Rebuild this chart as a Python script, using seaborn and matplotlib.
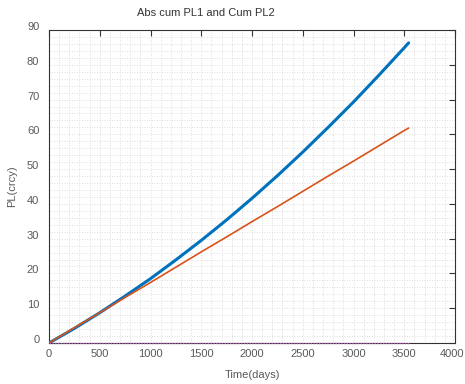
import matplotlib
matplotlib.use("Agg")
import matplotlib.pyplot as plt
from matplotlib.ticker import MultipleLocator
from matplotlib.transforms import ScaledTranslation
import numpy as np
import pandas as pd
import seaborn as sns

# Time axis (days) and cumulative PL values for the two series
time_days = [0, 250, 500, 750, 1000, 1250, 1500, 1750, 2000, 2250, 2500,
             2750, 3000, 3250, 3500, 3543]
abs_cum_pl1 = [0.0, 4.2, 8.7, 13.5, 18.5, 23.9, 29.5, 35.4, 41.6, 48.1, 54.9,
               62.0, 69.3, 77.0, 84.9, 86.3]
cum_pl2 = [0.0, 4.4, 8.7, 13.1, 17.4, 21.8, 26.2, 30.5, 34.9, 39.2, 43.6,
           48.0, 52.3, 56.7, 61.1, 61.8]
baseline = [0.0] * len(time_days)

title = "Abs cum PL1 and Cum PL2"
xlabel = "Time(days)"
ylabel = "PL(crcy)"
x_ticks = [0, 500, 1000, 1500, 2000, 2500, 3000, 3500, 4000]
y_ticks = [0, 10, 20, 30, 40, 50, 60, 70, 80, 90]

sns.set_theme(style="white")
plt.rcParams["font.family"] = ["Liberation Sans", "DejaVu Sans"]

df = pd.DataFrame({"t": time_days, "pl1": abs_cum_pl1, "pl2": cum_pl2,
                   "zero": baseline})

fig = plt.figure(figsize=(4.65, 3.84), dpi=100)
ax = fig.add_axes([49 / 465, 1 - 343 / 384, 406 / 465, 313 / 384])

sns.lineplot(data=df, x="t", y="pl1", ax=ax, color="#0072BD", lw=2.2, zorder=3)
sns.lineplot(data=df, x="t", y="pl2", ax=ax, color="#D95319", lw=1.2, zorder=3)
sns.lineplot(data=df, x="t", y="zero", ax=ax, color="#b35bb3", lw=1.0,
             ls=(0, (1, 1)), zorder=6)
ax.lines[-1].set_clip_on(False)

ax.set_xlim(0, 4000)
ax.set_ylim(0, 90)
ax.set_xticks(x_ticks, [str(v) for v in x_ticks])
ax.set_yticks(y_ticks, [str(v) for v in y_ticks])
ax.xaxis.set_minor_locator(MultipleLocator(100))
ax.yaxis.set_minor_locator(MultipleLocator(2))

ax.grid(which="both", ls=(0, (1, 2)), color="#d4d4d4", lw=0.6)
ax.set_axisbelow(True)

ax.tick_params(which="major", direction="in", length=4, width=0.8,
               top=True, right=True, colors="#333333", labelcolor="#5a5a5a",
               labelsize=8)
ax.tick_params(axis="x", which="major", pad=4)
ax.tick_params(axis="y", which="major", pad=7)
ax.tick_params(which="minor", direction="in", length=0)
for s in ax.spines.values():
    s.set_color("#333333")
    s.set_linewidth(0.8)

# nudge y labels upward slightly, and keep the last x label inside the figure
up = ScaledTranslation(0, 4 / 100, fig.dpi_scale_trans)
for lab in ax.get_yticklabels():
    lab.set_transform(lab.get_transform() + up)
left = ScaledTranslation(-3 / 100, 0, fig.dpi_scale_trans)
for lab in ax.get_xticklabels():
    if lab.get_text() == "4000":
        lab.set_transform(lab.get_transform() + left)

ax.set_xlabel(xlabel, fontsize=8, color="#5a5a5a", labelpad=8)
ax.set_ylabel(ylabel, fontsize=8, color="#5a5a5a", labelpad=7)
fig.text(206 / 465, 1 - 13 / 384, title, fontsize=8, color="#333333",
         ha="center", va="center")

fig.savefig("out.png", dpi=100)
